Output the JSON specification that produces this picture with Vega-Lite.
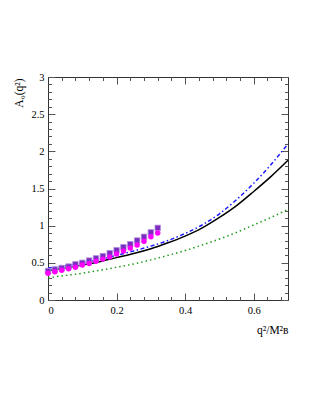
{
  "$schema": "https://vega.github.io/schema/vega-lite/v6.json",
  "width": 240,
  "height": 223,
  "autosize": {"type": "none"},
  "padding": {"left": 48, "top": 77, "right": 33, "bottom": 115},
  "background": "white",
  "config": {
    "view": {"stroke": null},
    "axis": {
      "labelFont": "Liberation Serif",
      "titleFont": "Liberation Serif",
      "labelFontSize": 10.5,
      "titleFontSize": 11.5,
      "labelColor": "black",
      "titleColor": "black",
      "titleFontWeight": "normal",
      "domainColor": "#333333",
      "tickColor": "#555555",
      "grid": false
    }
  },
  "datasets": {
    "curves": [
      {"q2": 0, "A0": 0.395, "model": "black"},
      {"q2": 0.05, "A0": 0.43, "model": "black"},
      {"q2": 0.1, "A0": 0.47, "model": "black"},
      {"q2": 0.15, "A0": 0.515, "model": "black"},
      {"q2": 0.2, "A0": 0.57, "model": "black"},
      {"q2": 0.25, "A0": 0.625, "model": "black"},
      {"q2": 0.3, "A0": 0.69, "model": "black"},
      {"q2": 0.35, "A0": 0.77, "model": "black"},
      {"q2": 0.4, "A0": 0.86, "model": "black"},
      {"q2": 0.45, "A0": 0.97, "model": "black"},
      {"q2": 0.5, "A0": 1.11, "model": "black"},
      {"q2": 0.55, "A0": 1.27, "model": "black"},
      {"q2": 0.6, "A0": 1.46, "model": "black"},
      {"q2": 0.65, "A0": 1.66, "model": "black"},
      {"q2": 0.7, "A0": 1.88, "model": "black"},
      {"q2": 0, "A0": 0.43, "model": "blue"},
      {"q2": 0.05, "A0": 0.46, "model": "blue"},
      {"q2": 0.1, "A0": 0.5, "model": "blue"},
      {"q2": 0.15, "A0": 0.545, "model": "blue"},
      {"q2": 0.2, "A0": 0.6, "model": "blue"},
      {"q2": 0.25, "A0": 0.66, "model": "blue"},
      {"q2": 0.3, "A0": 0.725, "model": "blue"},
      {"q2": 0.35, "A0": 0.8, "model": "blue"},
      {"q2": 0.4, "A0": 0.895, "model": "blue"},
      {"q2": 0.45, "A0": 1.01, "model": "blue"},
      {"q2": 0.5, "A0": 1.16, "model": "blue"},
      {"q2": 0.55, "A0": 1.35, "model": "blue"},
      {"q2": 0.6, "A0": 1.57, "model": "blue"},
      {"q2": 0.65, "A0": 1.82, "model": "blue"},
      {"q2": 0.7, "A0": 2.1, "model": "blue"},
      {"q2": 0, "A0": 0.3, "model": "green"},
      {"q2": 0.05, "A0": 0.33, "model": "green"},
      {"q2": 0.1, "A0": 0.36, "model": "green"},
      {"q2": 0.15, "A0": 0.4, "model": "green"},
      {"q2": 0.2, "A0": 0.44, "model": "green"},
      {"q2": 0.25, "A0": 0.485, "model": "green"},
      {"q2": 0.3, "A0": 0.54, "model": "green"},
      {"q2": 0.35, "A0": 0.6, "model": "green"},
      {"q2": 0.4, "A0": 0.665, "model": "green"},
      {"q2": 0.45, "A0": 0.74, "model": "green"},
      {"q2": 0.5, "A0": 0.82, "model": "green"},
      {"q2": 0.55, "A0": 0.91, "model": "green"},
      {"q2": 0.6, "A0": 1.01, "model": "green"},
      {"q2": 0.65, "A0": 1.11, "model": "green"},
      {"q2": 0.7, "A0": 1.22, "model": "green"}
    ],
    "points": [
      {"q2": 0, "A0": 0.39, "set": "squares"},
      {"q2": 0.02, "A0": 0.41, "set": "squares"},
      {"q2": 0.04, "A0": 0.43, "set": "squares"},
      {"q2": 0.06, "A0": 0.45, "set": "squares"},
      {"q2": 0.08, "A0": 0.48, "set": "squares"},
      {"q2": 0.1, "A0": 0.5, "set": "squares"},
      {"q2": 0.12, "A0": 0.53, "set": "squares"},
      {"q2": 0.14, "A0": 0.56, "set": "squares"},
      {"q2": 0.16, "A0": 0.59, "set": "squares"},
      {"q2": 0.18, "A0": 0.63, "set": "squares"},
      {"q2": 0.2, "A0": 0.67, "set": "squares"},
      {"q2": 0.22, "A0": 0.71, "set": "squares"},
      {"q2": 0.24, "A0": 0.75, "set": "squares"},
      {"q2": 0.26, "A0": 0.8, "set": "squares"},
      {"q2": 0.28, "A0": 0.85, "set": "squares"},
      {"q2": 0.3, "A0": 0.91, "set": "squares"},
      {"q2": 0.32, "A0": 0.97, "set": "squares"},
      {"q2": 0, "A0": 0.36, "set": "circles"},
      {"q2": 0.02, "A0": 0.38, "set": "circles"},
      {"q2": 0.04, "A0": 0.4, "set": "circles"},
      {"q2": 0.06, "A0": 0.42, "set": "circles"},
      {"q2": 0.08, "A0": 0.44, "set": "circles"},
      {"q2": 0.1, "A0": 0.47, "set": "circles"},
      {"q2": 0.12, "A0": 0.49, "set": "circles"},
      {"q2": 0.14, "A0": 0.52, "set": "circles"},
      {"q2": 0.16, "A0": 0.55, "set": "circles"},
      {"q2": 0.18, "A0": 0.58, "set": "circles"},
      {"q2": 0.2, "A0": 0.62, "set": "circles"},
      {"q2": 0.22, "A0": 0.66, "set": "circles"},
      {"q2": 0.24, "A0": 0.7, "set": "circles"},
      {"q2": 0.26, "A0": 0.74, "set": "circles"},
      {"q2": 0.28, "A0": 0.79, "set": "circles"},
      {"q2": 0.3, "A0": 0.85, "set": "circles"},
      {"q2": 0.32, "A0": 0.9, "set": "circles"}
    ]
  },
  "resolve": {"axis": {"x": "independent", "y": "independent"}},
  "layer": [
    {
      "data": {"name": "curves"},
      "transform": [{"filter": "datum.model === 'black'"}],
      "mark": {"type": "line", "color": "black", "strokeWidth": 1.5, "interpolate": "monotone"},
      "encoding": {
        "x": {"field": "q2", "type": "quantitative", "scale": {"domain": [0, 0.7], "nice": false, "zero": false},
          "axis": {"orient": "bottom", "values": [0, 0.2, 0.4, 0.6], "format": "~g", "tickSize": -7, "labelPadding": 12,
            "title": "q²/M²ʙ", "titleX": 240, "titleY": 33, "titleAlign": "right", "titleBaseline": "alphabetic", "titleAngle": 0}},
        "y": {"field": "A0", "type": "quantitative", "scale": {"domain": [0, 3], "nice": false, "zero": false},
          "axis": {"orient": "left", "values": [0, 0.5, 1, 1.5, 2, 2.5, 3], "format": "~g", "tickSize": -7, "labelPadding": 11,
            "title": "A₀(q²)", "titleX": -26, "titleY": 1, "titleAngle": -90, "titleAlign": "right", "titleBaseline": "alphabetic"}}
      }
    },
    {
      "data": {"name": "curves"},
      "transform": [{"filter": "datum.model === 'blue'"}],
      "mark": {"type": "line", "color": "#1a1aff", "strokeWidth": 1.5, "strokeDash": [4, 2.5, 1.5, 2.5], "interpolate": "monotone"},
      "encoding": {
        "x": {"field": "q2", "type": "quantitative", "scale": {"domain": [0, 0.7], "nice": false, "zero": false},
          "axis": {"orient": "bottom", "values": [0.04, 0.08, 0.12, 0.16, 0.24, 0.28, 0.32, 0.36, 0.44, 0.48, 0.52, 0.56, 0.64, 0.68], "tickSize": -3.5, "labels": false, "domain": false, "title": null}},
        "y": {"field": "A0", "type": "quantitative", "scale": {"domain": [0, 3], "nice": false, "zero": false},
          "axis": {"orient": "left", "values": [0.1, 0.2, 0.3, 0.4, 0.6, 0.7, 0.8, 0.9, 1.1, 1.2, 1.3, 1.4, 1.6, 1.7, 1.8, 1.9, 2.1, 2.2, 2.3, 2.4, 2.6, 2.7, 2.8, 2.9], "tickSize": -3.5, "labels": false, "domain": false, "title": null}}
      }
    },
    {
      "data": {"name": "curves"},
      "transform": [{"filter": "datum.model === 'green'"}],
      "mark": {"type": "line", "color": "#1f9a1f", "strokeWidth": 1.5, "strokeDash": [1.5, 3], "interpolate": "monotone"},
      "encoding": {
        "x": {"field": "q2", "type": "quantitative", "scale": {"domain": [0, 0.7], "nice": false, "zero": false},
          "axis": {"orient": "top", "values": [0, 0.2, 0.4, 0.6], "tickSize": -7, "labels": false, "title": null}},
        "y": {"field": "A0", "type": "quantitative", "scale": {"domain": [0, 3], "nice": false, "zero": false},
          "axis": {"orient": "right", "values": [0, 0.5, 1, 1.5, 2, 2.5, 3], "tickSize": -7, "labels": false, "title": null}}
      }
    },
    {
      "data": {"name": "points"},
      "transform": [{"filter": "datum.set === 'squares'"}],
      "mark": {"type": "point", "shape": "square", "filled": true, "color": "#7a2cc0", "size": 30, "opacity": 1, "stroke": "#b48ee0", "strokeWidth": 0.8},
      "encoding": {
        "x": {"field": "q2", "type": "quantitative", "scale": {"domain": [0, 0.7], "nice": false, "zero": false},
          "axis": {"orient": "top", "values": [0.04, 0.08, 0.12, 0.16, 0.24, 0.28, 0.32, 0.36, 0.44, 0.48, 0.52, 0.56, 0.64, 0.68], "tickSize": -3.5, "labels": false, "domain": false, "title": null}},
        "y": {"field": "A0", "type": "quantitative", "scale": {"domain": [0, 3], "nice": false, "zero": false},
          "axis": {"orient": "right", "values": [0.1, 0.2, 0.3, 0.4, 0.6, 0.7, 0.8, 0.9, 1.1, 1.2, 1.3, 1.4, 1.6, 1.7, 1.8, 1.9, 2.1, 2.2, 2.3, 2.4, 2.6, 2.7, 2.8, 2.9], "tickSize": -3.5, "labels": false, "domain": false, "title": null}}
      }
    },
    {
      "data": {"name": "points"},
      "transform": [{"filter": "datum.set === 'circles'"}],
      "mark": {"type": "point", "shape": "circle", "filled": true, "color": "#ff00ff", "size": 30, "opacity": 1},
      "encoding": {
        "x": {"field": "q2", "type": "quantitative", "scale": {"domain": [0, 0.7], "nice": false, "zero": false}, "axis": null},
        "y": {"field": "A0", "type": "quantitative", "scale": {"domain": [0, 3], "nice": false, "zero": false}, "axis": null}
      }
    }
  ]
}
